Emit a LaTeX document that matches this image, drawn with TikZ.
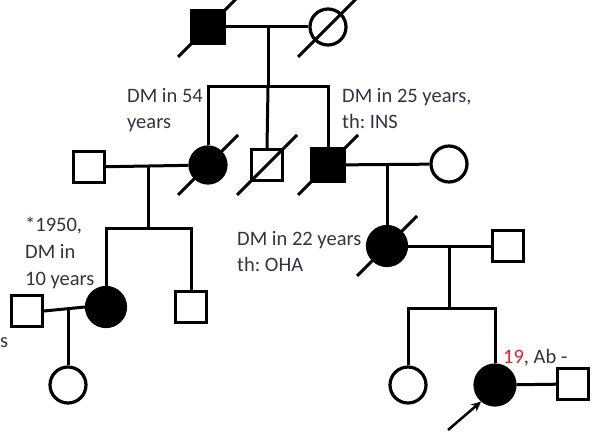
\documentclass[tikz,border=0pt]{standalone}
\usepackage{fontspec}
\setmainfont{Carlito}
\usetikzlibrary{arrows.meta}
\definecolor{labelgray}{RGB}{50,50,66}
\definecolor{agered}{RGB}{230,30,50}
\frenchspacing
\begin{document}
\begin{tikzpicture}[x=1pt,y=-1pt,
  male/.style={draw,rectangle,minimum size=31pt,inner sep=0pt,line width=3.2pt},
  female/.style={draw,circle,minimum size=36pt,inner sep=0pt,line width=3.2pt},
  aff/.style={fill=black},
  link/.style={line width=3pt},
  deceased/.style={line width=2.9pt},
  lbl/.style={font=\fontsize{20.5}{26.5}\selectfont,text=labelgray,align=left,inner sep=0pt,anchor=north west}]
\useasboundingbox (0,0) rectangle (596,433);

% generation I
\node[male,aff,minimum size=33pt] (i1) at (208,27) {};
\node[female] (i2) at (328,27) {};

% generation II
\node[male] (ii1) at (89,167) {};
\node[female,aff] (ii2) at (208,165) {};
\node[male] (ii3) at (267,165) {};
\node[male,aff,minimum size=33pt] (ii4) at (328,165) {};
\node[female] (ii5) at (449,164) {};

% generation III
\node[male] (iii0) at (27,311) {};
\node[female,aff,minimum size=39pt] (iii1) at (106,307) {};
\node[male] (iii2) at (191,307) {};
\node[female,aff,minimum size=39pt] (iii3) at (387,246) {};
\node[male] (iii4) at (508,246) {};

% generation IV
\node[female] (iv1) at (68,385) {};
\node[female] (iv2) at (408,385) {};
\node[female,aff,minimum size=40pt] (iv3) at (495,385) {};
\node[male] (iv4) at (573,384) {};

% marriage lines
\draw[link] (i1) -- (i2);
\draw[link] (ii1) -- (ii2);
\draw[link] (ii4) -- (ii5);
\draw[link] (iii0.east) -- (iii1.west);
\draw[link] (iii3) -- (iii4);
\draw[link] (iv3) -- (iv4);

% descent and sibship lines
\coordinate (m1) at (268,27);
\coordinate (s1) at (268,87);
\draw[link] (m1) -- (s1);
\draw[link] (ii2.north) -- (ii2.north |- s1) -- (ii4.north |- s1) -- (ii4.north);
\draw[link] (s1) -- (ii3.north);

\coordinate (m2) at (148,166);
\coordinate (s2) at (148,228);
\draw[link] (m2) -- (s2);
\draw[link] (iii1.north) -- (iii1.north |- s2) -- (iii2.north |- s2) -- (iii2.north);

\coordinate (m3) at (387,166);
\draw[link] (m3) -- (iii3.north);

\coordinate (m4) at (449,246);
\coordinate (s4) at (449,308);
\draw[link] (m4) -- (s4);
\draw[link] (iv2.north) -- (iv2.north |- s4) -- (iv3.north |- s4) -- (iv3.north);

\coordinate (m5) at (68,308);
\draw[link] (m5) -- (iv1.north);

% deceased marks
\foreach \n in {i1,i2,ii2,ii3,ii4,iii3}
  \draw[deceased] (\n.center) ++(-30,30) -- ++(60,-60);

% proband arrow
\coordinate (pa) at (448,430);
\draw[line width=2.5pt,-{Stealth[length=10pt,width=9pt]}] (pa) -- (iv3.-130);

% annotations
\node[lbl] (t1) at (127,88) {DM in 54\\years};
\node[lbl] (t2) at (342,88) {DM in 25 years,\\th: INS};
\node[lbl,font=\fontsize{20.5}{27}\selectfont] (t3) at (25,217) {*1950,\\DM in\\10 years};
\node[lbl] (t4) at (237,231) {DM in 22 years\\th: OHA};
\node[lbl] (t5) at (503,349) {\textcolor{agered}{19}, Ab -};
\node[lbl] (t6) at (0,337) {s};
\end{tikzpicture}
\end{document}
